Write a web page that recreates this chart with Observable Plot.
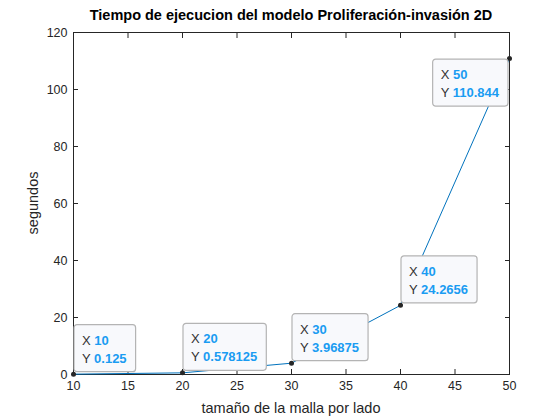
<!DOCTYPE html>
<html><head><meta charset="utf-8">
<script src="https://cdn.jsdelivr.net/npm/d3@7"></script>
<script src="https://cdn.jsdelivr.net/npm/@observablehq/plot@0.6"></script>
<style>body{margin:0;background:#fff;} svg{display:block;}</style>
</head><body>
<div id="chart"></div>
<script>
const xValues = [10, 20, 30, 40, 50];
const yValues = [0.125, 0.578125, 3.96875, 24.2656, 110.844];
const yLabels = ["0.125", "0.578125", "3.96875", "24.2656", "110.844"];
const xTicks = [10, 15, 20, 25, 30, 35, 40, 45, 50];
const yTicks = [0, 20, 40, 60, 80, 100, 120];
const titleText = "Tiempo de ejecucion del modelo Proliferación-invasión 2D";
const xLabelText = "tamaño de la malla por lado";
const yLabelText = "segundos";
const tipSide = ["ur", "ur", "ur", "ur", "ll"];

const data = xValues.map((x, i) => ({x, y: yValues[i], label: yLabels[i], side: tipSide[i]}));
const font = "'Liberation Sans', Arial, Helvetica, sans-serif";
const axisColor = "#262626";

const plot = Plot.plot({
  width: 560, height: 420,
  marginLeft: 73, marginRight: 51, marginTop: 32, marginBottom: 46,
  style: {fontFamily: font, fontSize: "12px", color: axisColor, background: "#fff"},
  x: {domain: [10, 50]},
  y: {domain: [0, 120]},
  marks: [
    Plot.frame({stroke: axisColor, strokeWidth: 1}),
    Plot.axisX({ticks: xTicks, tickSize: -5, tickPadding: 12, tickFormat: d => String(d), fontSize: 12.5, label: null}),
    Plot.axisX({anchor: "top", ticks: xTicks, tickSize: -5, tickFormat: () => "", label: null}),
    Plot.axisY({ticks: yTicks, tickSize: -5, tickPadding: 11, tickFormat: d => String(d), fontSize: 12.5, label: null}),
    Plot.axisY({anchor: "right", ticks: yTicks, tickSize: -5, tickFormat: () => "", label: null}),
    Plot.line(data, {x: "x", y: "y", stroke: "#0072BD", strokeWidth: 1}),
    Plot.dot(data, {x: "x", y: "y", r: 2.5, fill: "#262626", stroke: "none"})
  ]
});
document.getElementById("chart").appendChild(plot);

const sx = plot.scale("x"), sy = plot.scale("y");
const svg = d3.select(plot);
const [xr0, xr1] = sx.range, [yr0, yr1] = sy.range;
const cx = (xr0 + xr1) / 2, cy = (yr0 + yr1) / 2;

// Title and axis labels
const lab = svg.append("g").attr("font-family", font).attr("text-anchor", "middle");
lab.append("text").attr("x", cx).attr("y", yr1 - 12).attr("font-size", 14.5).attr("font-weight", "bold").attr("fill", "#000").text(titleText);
lab.append("text").attr("x", cx).attr("y", yr0 + 39).attr("font-size", 14.5).attr("fill", axisColor).text(xLabelText);
lab.append("text").attr("transform", `translate(${xr0 - 35},${cy}) rotate(-90)`).attr("font-size", 14.5).attr("fill", axisColor).text(yLabelText);

// Data tips positioned through the plot's own scales
const g = svg.append("g").attr("font-family", font).attr("font-size", 13).attr("text-anchor", "start");
data.forEach(d => {
  const px = sx.apply(d.x), py = sy.apply(d.y);
  const tg = g.append("g");
  const rect = tg.append("rect").attr("rx", 3).attr("ry", 3)
    .attr("fill", "#f8f9fc").attr("stroke", "#b4b4b4").attr("stroke-width", 1.2);
  const t1 = tg.append("text").attr("x", 8).attr("y", 20);
  t1.append("tspan").attr("fill", "#333").text("X ");
  t1.append("tspan").attr("fill", "#1a9cf2").attr("font-weight", "bold").text(String(d.x));
  const t2 = tg.append("text").attr("x", 8).attr("y", 38);
  t2.append("tspan").attr("fill", "#333").text("Y ");
  t2.append("tspan").attr("fill", "#1a9cf2").attr("font-weight", "bold").text(d.label);
  const w = Math.max(t1.node().getComputedTextLength(), t2.node().getComputedTextLength()) + 17;
  const h = 47;
  rect.attr("x", 0).attr("y", 0).attr("width", w).attr("height", h);
  let ox, oy;
  if (d.side === "ur") { ox = px + 1; oy = py - 2 - h; }
  else { ox = px - 1 - w; oy = py + 1; }
  tg.attr("transform", `translate(${ox},${oy})`);
});
</script>
</body></html>
